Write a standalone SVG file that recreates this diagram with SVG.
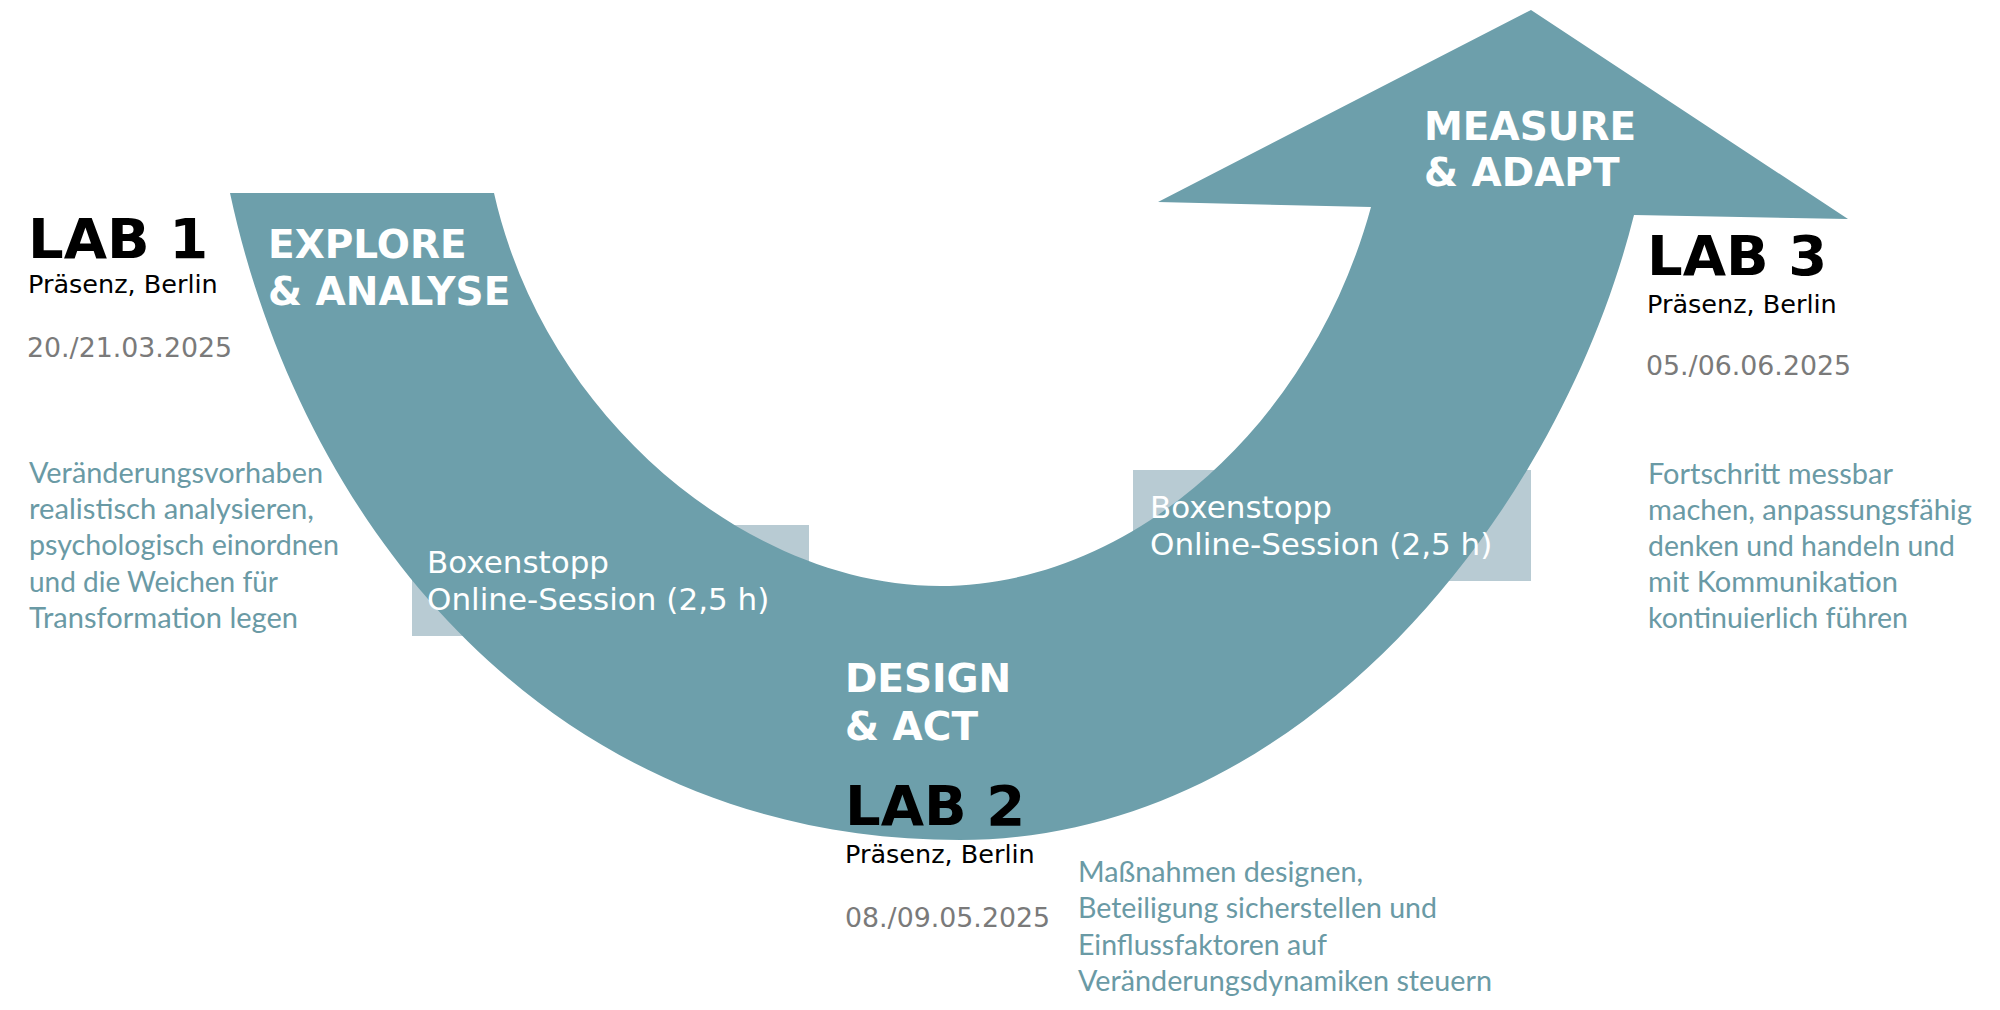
<svg xmlns="http://www.w3.org/2000/svg" width="2000" height="1010" viewBox="0 0 2000 1010">
<style>
.lab{font-family:"DejaVu Sans",Verdana,sans-serif;font-weight:bold;font-size:56px;fill:#000}
.loc{font-family:"DejaVu Sans",Verdana,sans-serif;font-size:25.5px;fill:#000}
.date{font-family:"DejaVu Sans",Verdana,sans-serif;font-size:26.8px;fill:#7a7a7a}
.phase{font-family:"DejaVu Sans",Verdana,sans-serif;font-weight:bold;font-size:39px;fill:#fff}
.box{fill:#b8cbd3}
.boxt{font-family:"DejaVu Sans",Verdana,sans-serif;font-size:31px;fill:#fff}
.desc{font-family:Lato,"Open Sans",sans-serif;font-size:28px;fill:#6a9aa5}
.band{fill:#6d9fab}
</style>
<rect width="2000" height="1010" fill="#fff"/>
<g id="boxenstopp1-bg"><rect class="box" x="412" y="525" width="397" height="111"/></g>
<g id="boxenstopp2-bg"><rect class="box" x="1133" y="470" width="398" height="111"/></g>
<g id="connectors">
<path id="band" class="band" d="M230,193 L494,193 C545,420 750,586 940,586 C1130,586 1311,427 1371,207 L1158,202 L1531,10 L1848,219 L1634,215 C1559,515 1300,840 960,840 C545,840 300,520 230,193 Z"/>
</g>
<g id="boxenstopp1">
<text class="boxt" x="427" y="573">Boxenstopp</text>
<text class="boxt" x="427" y="610">Online-Session (2,5 h)</text>
</g>
<g id="boxenstopp2">
<text class="boxt" x="1150" y="518">Boxenstopp</text>
<text class="boxt" x="1150" y="555">Online-Session (2,5 h)</text>
</g>
<g id="phase-explore">
<text class="phase" x="268" y="258">EXPLORE</text>
<text class="phase" x="268" y="305">&amp; ANALYSE</text>
</g>
<g id="phase-design">
<text class="phase" x="845" y="692">DESIGN</text>
<text class="phase" x="845" y="740">&amp; ACT</text>
</g>
<g id="phase-measure">
<text class="phase" x="1424" y="140">MEASURE</text>
<text class="phase" x="1424" y="186">&amp; ADAPT</text>
</g>
<g id="lab1">
<text class="lab" x="28" y="258">LAB 1</text>
<text class="loc" x="28" y="293">Präsenz, Berlin</text>
<text class="date" x="27" y="357">20./21.03.2025</text>
<text class="desc" x="29" y="483" textLength="294" lengthAdjust="spacingAndGlyphs">Veränderungsvorhaben</text>
<text class="desc" x="29" y="519" textLength="285" lengthAdjust="spacingAndGlyphs">realistisch analysieren,</text>
<text class="desc" x="29" y="555" textLength="310" lengthAdjust="spacingAndGlyphs">psychologisch einordnen</text>
<text class="desc" x="29" y="592" textLength="249" lengthAdjust="spacingAndGlyphs">und die Weichen für</text>
<text class="desc" x="29" y="628" textLength="269" lengthAdjust="spacingAndGlyphs">Transformation legen</text>
</g>
<g id="lab2">
<text class="lab" x="845" y="825">LAB 2</text>
<text class="loc" x="845" y="863">Präsenz, Berlin</text>
<text class="date" x="845" y="927">08./09.05.2025</text>
<text class="desc" x="1078" y="882" textLength="285" lengthAdjust="spacingAndGlyphs">Maßnahmen designen,</text>
<text class="desc" x="1078" y="918" textLength="359" lengthAdjust="spacingAndGlyphs">Beteiligung sicherstellen und</text>
<text class="desc" x="1078" y="955" textLength="249" lengthAdjust="spacingAndGlyphs">Einflussfaktoren auf</text>
<text class="desc" x="1078" y="991" textLength="414" lengthAdjust="spacingAndGlyphs">Veränderungsdynamiken steuern</text>
</g>
<g id="lab3">
<text class="lab" x="1647" y="275">LAB 3</text>
<text class="loc" x="1647" y="313">Präsenz, Berlin</text>
<text class="date" x="1646" y="375">05./06.06.2025</text>
<text class="desc" x="1648" y="484" textLength="245" lengthAdjust="spacingAndGlyphs">Fortschritt messbar</text>
<text class="desc" x="1648" y="520" textLength="324" lengthAdjust="spacingAndGlyphs">machen, anpassungsfähig</text>
<text class="desc" x="1648" y="556" textLength="307" lengthAdjust="spacingAndGlyphs">denken und handeln und</text>
<text class="desc" x="1648" y="592" textLength="250" lengthAdjust="spacingAndGlyphs">mit Kommunikation</text>
<text class="desc" x="1648" y="628" textLength="260" lengthAdjust="spacingAndGlyphs">kontinuierlich führen</text>
</g>
</svg>
